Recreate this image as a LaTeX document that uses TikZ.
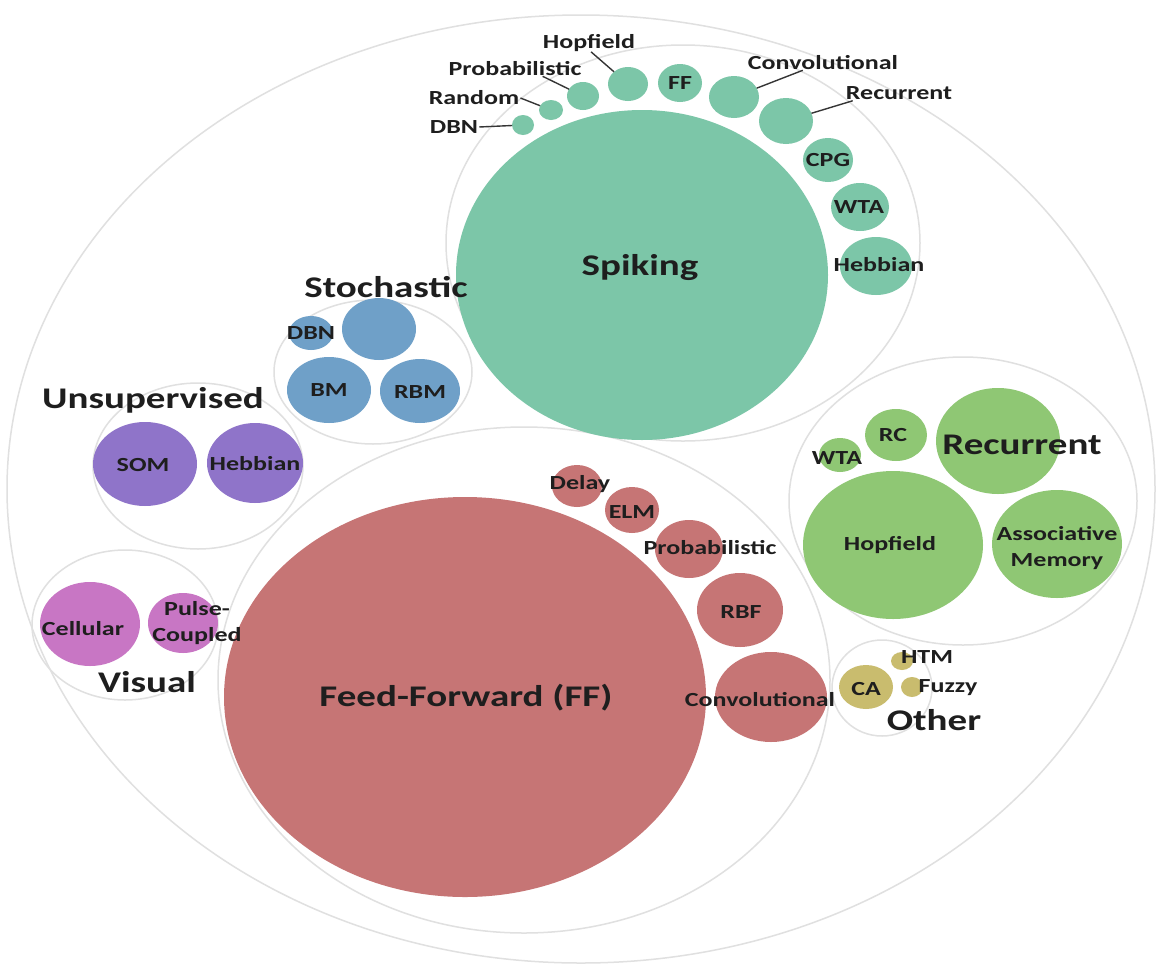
\documentclass[tikz,border=0pt]{standalone}
\usepackage{fontspec}
\newfontfamily\lab{Carlito}[FakeStretch=1.3]
\usetikzlibrary{shapes.geometric,calc}

\definecolor{spk}{HTML}{7CC6A8}
\definecolor{sto}{HTML}{6FA0C8}
\definecolor{uns}{HTML}{8F74C9}
\definecolor{vis}{HTML}{C876C4}
\definecolor{ffd}{HTML}{C67575}
\definecolor{rec}{HTML}{8FC774}
\definecolor{oth}{HTML}{C9BC6E}
\definecolor{ringgray}{HTML}{E0E0E0}
\definecolor{ink}{HTML}{1E1E1E}

\tikzset{
  bubble/.style={ellipse, draw=none, inner sep=0pt, outer sep=0pt},
  ring/.style={ellipse, draw=ringgray, line width=1.5pt, inner sep=0pt, outer sep=0pt},
  txt/.style={font=\lab\bfseries\fontsize{20}{26}\selectfont, text=ink, inner sep=1pt, align=center},
  head/.style={font=\lab\bfseries\fontsize{30}{34}\selectfont, text=ink, inner sep=1pt},
  lead/.style={draw=ink!90, line width=1.4pt},
}

% bubble: name, x, y (down), x radius, y radius, colour
\newcommand\bub[6]{\node[bubble, fill=#6, minimum width=#4*2pt, minimum height=#5*2pt] (#1) at (#2,-#3) {};}
% group outline: name, x, y (down), x radius, y radius
\newcommand\grp[5]{\node[ring, minimum width=#4*2pt, minimum height=#5*2pt] (#1) at (#2,-#3) {};}

\begin{document}
\begin{tikzpicture}[x=1pt,y=1pt]
\fill[white] (0,0) rectangle (1162,-967);
\useasboundingbox (0,0) rectangle (1162,-967);

% group outlines
\grp{outer}{581}{489}{574}{474}
\grp{gSpk}{683}{243}{237}{198}
\grp{gSto}{373}{372}{99}{72}
\grp{gUns}{198}{466}{105}{83}
\grp{gVis}{125}{625}{93}{75}
\grp{gFF}{524}{680}{306}{253}
\grp{gRec}{963}{501}{174}{144}
\grp{gOth}{882}{688}{50}{48}

% spiking
\bub{spiking}{642}{275}{186}{165}{spk}
\bub{sDBN}{523}{125}{11}{10}{spk}
\bub{sRand}{551}{110}{12}{10}{spk}
\bub{sProb}{583}{96}{16}{14}{spk}
\bub{sHop}{628}{84}{20}{17}{spk}
\bub{sFF}{680}{83}{22}{19}{spk}
\bub{sConv}{734}{97}{25}{21}{spk}
\bub{sRec}{786}{121}{27}{23}{spk}
\bub{sCPG}{828}{160}{25}{22}{spk}
\bub{sWTA}{860}{207}{29}{24}{spk}
\bub{sHeb}{876}{266}{36}{29}{spk}

% stochastic
\bub{tDBN}{311}{333}{22}{17}{sto}
\bub{tTop}{379}{329}{37}{31}{sto}
\bub{tBM}{329}{390}{42}{33}{sto}
\bub{tRBM}{420}{391}{40}{32}{sto}

% unsupervised
\bub{uSOM}{145}{464}{52}{42}{uns}
\bub{uHeb}{255}{463}{48}{40}{uns}

% visual
\bub{vCel}{90}{624}{50}{42}{vis}
\bub{vPul}{183}{623}{35}{30}{vis}

% feed-forward
\bub{ff}{465}{697}{241}{200}{ffd}
\bub{fDel}{577}{486}{25}{21}{ffd}
\bub{fELM}{632}{510}{27}{23}{ffd}
\bub{fProb}{689}{549}{34}{29}{ffd}
\bub{fRBF}{740}{610}{43}{37}{ffd}
\bub{fConv}{771}{697}{56}{45}{ffd}

% recurrent
\bub{rWTA}{840}{455}{21}{17}{rec}
\bub{rRC}{896}{435}{31}{26}{rec}
\bub{rRec}{998}{441}{62}{53}{rec}
\bub{rHop}{893}{545}{90}{74}{rec}
\bub{rAM}{1057}{544}{65}{54}{rec}

% other
\bub{oCA}{866}{687}{27}{22}{oth}
\bub{oHTM}{902}{661}{11}{9}{oth}
\bub{oFuz}{912}{687}{11}{10}{oth}

% headings
\node[head] (hSpk) at (640,-268) {Spiking};
\node[head] (hSto) at (386,-287) {Stochastic};
\node[head] (hUns) at (153,-400) {Unsupervised};
\node[head] (hVis) at (147,-682) {Visual};
\node[head] (hFF)  at (466,-698) {Feed-Forward (FF)};
\node[head] (hRec) at (1022,-445) {Recurrent};
\node[head] (hOth) at (934,-720) {Other};

% spiking labels
\node[txt] (lHop)  at (589,-43) {Hopfield};
\node[txt] (lProb) at (515,-69) {Probabilistic};
\node[txt] (lRand) at (474,-98) {Random};
\node[txt] (lDBN)  at (454,-127) {DBN};
\node[txt] (lConv) at (823,-63) {Convolutional};
\node[txt] (lRec)  at (899,-93) {Recurrent};
\node[txt] (lFF)   at (680,-83) {FF};
\node[txt] (lCPG)  at (828,-160) {CPG};
\node[txt] (lWTA)  at (859,-207) {WTA};
\node[txt] (lHeb)  at (879,-265) {Hebbian};

\draw[lead] ($(lHop.south)+(2,1)$) -- (sHop);
\draw[lead] ($(lProb.south east)+(-40,1)$) -- (sProb);
\draw[lead] (lRand.east) -- (sRand);
\draw[lead] (lDBN.east) -- (sDBN);
\draw[lead] ($(lConv.south west)+(56,1)$) -- (sConv);
\draw[lead] ($(lRec.south west)+(8,0)$) -- (sRec);

% stochastic labels
\node[txt] (lTDBN) at (311,-333) {DBN};
\node[txt] (lBM)   at (329,-390) {BM};
\node[txt] (lRBM)  at (420,-392) {RBM};

% unsupervised labels
\node[txt] (lSOM)  at (143,-465) {SOM};
\node[txt] (lUHeb) at (255,-464) {Hebbian};

% visual labels
\node[txt] (lCel)  at (83,-629) {Cellular};
\node[txt] (lPul)  at (197,-623) {Pulse-\\Coupled};

% feed-forward labels
\node[txt] (lDel)   at (580,-484) {Delay};
\node[txt] (lELM)   at (632,-512) {ELM};
\node[txt] (lFProb) at (710,-548) {Probabilistic};
\node[txt] (lRBF)   at (741,-612) {RBF};
\node[txt] (lFConv) at (760,-700) {Convolutional};

% recurrent labels
\node[txt] (lRWTA) at (837,-458) {WTA};
\node[txt] (lRC)   at (893,-435) {RC};
\node[txt] (lRHop) at (890,-545) {Hopfield};
\node[txt] (lAM)   at (1057,-548) {Associative\\Memory};

% other labels
\node[txt] (lCA)  at (866,-689) {CA};
\node[txt] (lHTM) at (927,-657) {HTM};
\node[txt] (lFuz) at (948,-688) {Fuzzy};
\end{tikzpicture}
\end{document}
